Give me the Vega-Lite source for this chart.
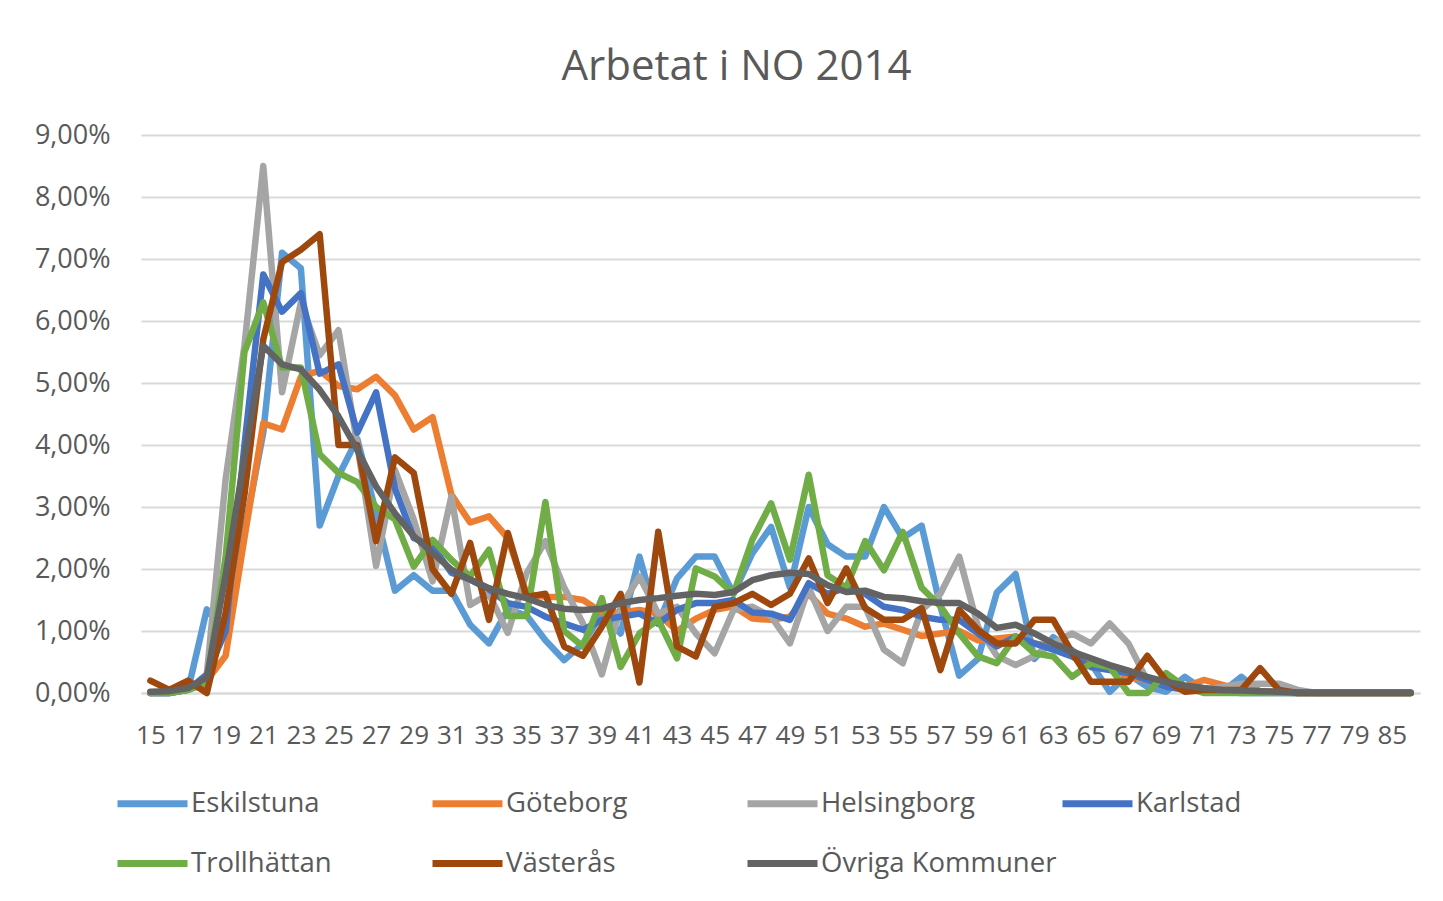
{
"$schema":"https://vega.github.io/schema/vega-lite/v6.json",
"autosize":"none",
"width":1279,"height":558,
"padding":{"left":141,"top":135,"right":23,"bottom":208},
"background":"white",
"title":{"text":"Arbetat i NO 2014","font":"Open Sans","fontSize":42,"fontWeight":"normal","color":"#595959","anchor":"middle","dx":-44,"offset":32},
"data":{"values":[
{"a":"15","s":"Eskilstuna","v":0},{"a":"16","s":"Eskilstuna","v":0},{"a":"17","s":"Eskilstuna","v":0.05},{"a":"18","s":"Eskilstuna","v":1.35},{"a":"19","s":"Eskilstuna","v":1.0},{"a":"20","s":"Eskilstuna","v":2.6},{"a":"21","s":"Eskilstuna","v":4.2},{"a":"22","s":"Eskilstuna","v":7.1},{"a":"23","s":"Eskilstuna","v":6.85},{"a":"24","s":"Eskilstuna","v":2.7},{"a":"25","s":"Eskilstuna","v":3.5},{"a":"26","s":"Eskilstuna","v":4.1},{"a":"27","s":"Eskilstuna","v":2.9},{"a":"28","s":"Eskilstuna","v":1.65},{"a":"29","s":"Eskilstuna","v":1.9},{"a":"30","s":"Eskilstuna","v":1.65},{"a":"31","s":"Eskilstuna","v":1.65},{"a":"32","s":"Eskilstuna","v":1.1},{"a":"33","s":"Eskilstuna","v":0.8},{"a":"34","s":"Eskilstuna","v":1.35},{"a":"35","s":"Eskilstuna","v":1.25},{"a":"36","s":"Eskilstuna","v":0.85},{"a":"37","s":"Eskilstuna","v":0.53},{"a":"38","s":"Eskilstuna","v":0.8},{"a":"39","s":"Eskilstuna","v":1.28},{"a":"40","s":"Eskilstuna","v":0.96},{"a":"41","s":"Eskilstuna","v":2.2},{"a":"42","s":"Eskilstuna","v":1.12},{"a":"43","s":"Eskilstuna","v":1.85},{"a":"44","s":"Eskilstuna","v":2.2},{"a":"45","s":"Eskilstuna","v":2.2},{"a":"46","s":"Eskilstuna","v":1.6},{"a":"47","s":"Eskilstuna","v":2.25},{"a":"48","s":"Eskilstuna","v":2.68},{"a":"49","s":"Eskilstuna","v":1.7},{"a":"50","s":"Eskilstuna","v":3.0},{"a":"51","s":"Eskilstuna","v":2.4},{"a":"52","s":"Eskilstuna","v":2.2},{"a":"53","s":"Eskilstuna","v":2.2},{"a":"54","s":"Eskilstuna","v":3.0},{"a":"55","s":"Eskilstuna","v":2.5},{"a":"56","s":"Eskilstuna","v":2.7},{"a":"57","s":"Eskilstuna","v":1.4},{"a":"58","s":"Eskilstuna","v":0.28},{"a":"59","s":"Eskilstuna","v":0.55},{"a":"60","s":"Eskilstuna","v":1.62},{"a":"61","s":"Eskilstuna","v":1.92},{"a":"62","s":"Eskilstuna","v":0.55},{"a":"63","s":"Eskilstuna","v":0.9},{"a":"64","s":"Eskilstuna","v":0.69},{"a":"65","s":"Eskilstuna","v":0.48},{"a":"66","s":"Eskilstuna","v":0.02},{"a":"67","s":"Eskilstuna","v":0.3},{"a":"68","s":"Eskilstuna","v":0.1},{"a":"69","s":"Eskilstuna","v":0.02},{"a":"70","s":"Eskilstuna","v":0.26},{"a":"71","s":"Eskilstuna","v":0.05},{"a":"72","s":"Eskilstuna","v":0.02},{"a":"73","s":"Eskilstuna","v":0.26},{"a":"74","s":"Eskilstuna","v":0.02},{"a":"75","s":"Eskilstuna","v":0.01},{"a":"76","s":"Eskilstuna","v":0},{"a":"77","s":"Eskilstuna","v":0},{"a":"78","s":"Eskilstuna","v":0},{"a":"79","s":"Eskilstuna","v":0},{"a":"80","s":"Eskilstuna","v":0},{"a":"85","s":"Eskilstuna","v":0},{"a":"87","s":"Eskilstuna","v":0},
{"a":"15","s":"Göteborg","v":0},{"a":"16","s":"Göteborg","v":0.02},{"a":"17","s":"Göteborg","v":0.1},{"a":"18","s":"Göteborg","v":0.2},{"a":"19","s":"Göteborg","v":0.6},{"a":"20","s":"Göteborg","v":2.5},{"a":"21","s":"Göteborg","v":4.35},{"a":"22","s":"Göteborg","v":4.25},{"a":"23","s":"Göteborg","v":5.1},{"a":"24","s":"Göteborg","v":5.2},{"a":"25","s":"Göteborg","v":4.95},{"a":"26","s":"Göteborg","v":4.9},{"a":"27","s":"Göteborg","v":5.1},{"a":"28","s":"Göteborg","v":4.8},{"a":"29","s":"Göteborg","v":4.25},{"a":"30","s":"Göteborg","v":4.45},{"a":"31","s":"Göteborg","v":3.2},{"a":"32","s":"Göteborg","v":2.75},{"a":"33","s":"Göteborg","v":2.85},{"a":"34","s":"Göteborg","v":2.5},{"a":"35","s":"Göteborg","v":1.6},{"a":"36","s":"Göteborg","v":1.55},{"a":"37","s":"Göteborg","v":1.55},{"a":"38","s":"Göteborg","v":1.5},{"a":"39","s":"Göteborg","v":1.3},{"a":"40","s":"Göteborg","v":1.3},{"a":"41","s":"Göteborg","v":1.34},{"a":"42","s":"Göteborg","v":1.28},{"a":"43","s":"Göteborg","v":1.0},{"a":"44","s":"Göteborg","v":1.2},{"a":"45","s":"Göteborg","v":1.34},{"a":"46","s":"Göteborg","v":1.4},{"a":"47","s":"Göteborg","v":1.2},{"a":"48","s":"Göteborg","v":1.18},{"a":"49","s":"Göteborg","v":1.23},{"a":"50","s":"Göteborg","v":1.6},{"a":"51","s":"Göteborg","v":1.28},{"a":"52","s":"Göteborg","v":1.2},{"a":"53","s":"Göteborg","v":1.07},{"a":"54","s":"Göteborg","v":1.12},{"a":"55","s":"Göteborg","v":1.02},{"a":"56","s":"Göteborg","v":0.92},{"a":"57","s":"Göteborg","v":0.96},{"a":"58","s":"Göteborg","v":1.0},{"a":"59","s":"Göteborg","v":0.85},{"a":"60","s":"Göteborg","v":0.88},{"a":"61","s":"Göteborg","v":0.91},{"a":"62","s":"Göteborg","v":0.8},{"a":"63","s":"Göteborg","v":0.75},{"a":"64","s":"Göteborg","v":0.64},{"a":"65","s":"Göteborg","v":0.53},{"a":"66","s":"Göteborg","v":0.42},{"a":"67","s":"Göteborg","v":0.26},{"a":"68","s":"Göteborg","v":0.21},{"a":"69","s":"Göteborg","v":0.13},{"a":"70","s":"Göteborg","v":0.1},{"a":"71","s":"Göteborg","v":0.21},{"a":"72","s":"Göteborg","v":0.13},{"a":"73","s":"Göteborg","v":0.05},{"a":"74","s":"Göteborg","v":0.03},{"a":"75","s":"Göteborg","v":0.02},{"a":"76","s":"Göteborg","v":0},{"a":"77","s":"Göteborg","v":0},{"a":"78","s":"Göteborg","v":0},{"a":"79","s":"Göteborg","v":0},{"a":"80","s":"Göteborg","v":0},{"a":"85","s":"Göteborg","v":0},{"a":"87","s":"Göteborg","v":0},
{"a":"15","s":"Helsingborg","v":0},{"a":"16","s":"Helsingborg","v":0},{"a":"17","s":"Helsingborg","v":0.05},{"a":"18","s":"Helsingborg","v":0.3},{"a":"19","s":"Helsingborg","v":3.45},{"a":"20","s":"Helsingborg","v":5.6},{"a":"21","s":"Helsingborg","v":8.5},{"a":"22","s":"Helsingborg","v":4.85},{"a":"23","s":"Helsingborg","v":6.3},{"a":"24","s":"Helsingborg","v":5.45},{"a":"25","s":"Helsingborg","v":5.85},{"a":"26","s":"Helsingborg","v":4.0},{"a":"27","s":"Helsingborg","v":2.05},{"a":"28","s":"Helsingborg","v":3.6},{"a":"29","s":"Helsingborg","v":2.8},{"a":"30","s":"Helsingborg","v":1.8},{"a":"31","s":"Helsingborg","v":3.17},{"a":"32","s":"Helsingborg","v":1.42},{"a":"33","s":"Helsingborg","v":1.6},{"a":"34","s":"Helsingborg","v":0.97},{"a":"35","s":"Helsingborg","v":1.93},{"a":"36","s":"Helsingborg","v":2.45},{"a":"37","s":"Helsingborg","v":1.7},{"a":"38","s":"Helsingborg","v":1.12},{"a":"39","s":"Helsingborg","v":0.3},{"a":"40","s":"Helsingborg","v":1.39},{"a":"41","s":"Helsingborg","v":1.88},{"a":"42","s":"Helsingborg","v":1.28},{"a":"43","s":"Helsingborg","v":1.39},{"a":"44","s":"Helsingborg","v":0.96},{"a":"45","s":"Helsingborg","v":0.64},{"a":"46","s":"Helsingborg","v":1.34},{"a":"47","s":"Helsingborg","v":1.39},{"a":"48","s":"Helsingborg","v":1.23},{"a":"49","s":"Helsingborg","v":0.8},{"a":"50","s":"Helsingborg","v":1.7},{"a":"51","s":"Helsingborg","v":1.0},{"a":"52","s":"Helsingborg","v":1.39},{"a":"53","s":"Helsingborg","v":1.39},{"a":"54","s":"Helsingborg","v":0.7},{"a":"55","s":"Helsingborg","v":0.48},{"a":"56","s":"Helsingborg","v":1.34},{"a":"57","s":"Helsingborg","v":1.6},{"a":"58","s":"Helsingborg","v":2.2},{"a":"59","s":"Helsingborg","v":1.07},{"a":"60","s":"Helsingborg","v":0.6},{"a":"61","s":"Helsingborg","v":0.45},{"a":"62","s":"Helsingborg","v":0.6},{"a":"63","s":"Helsingborg","v":0.8},{"a":"64","s":"Helsingborg","v":0.96},{"a":"65","s":"Helsingborg","v":0.8},{"a":"66","s":"Helsingborg","v":1.12},{"a":"67","s":"Helsingborg","v":0.8},{"a":"68","s":"Helsingborg","v":0.2},{"a":"69","s":"Helsingborg","v":0.1},{"a":"70","s":"Helsingborg","v":0.1},{"a":"71","s":"Helsingborg","v":0.05},{"a":"72","s":"Helsingborg","v":0.1},{"a":"73","s":"Helsingborg","v":0.15},{"a":"74","s":"Helsingborg","v":0.15},{"a":"75","s":"Helsingborg","v":0.15},{"a":"76","s":"Helsingborg","v":0.05},{"a":"77","s":"Helsingborg","v":0},{"a":"78","s":"Helsingborg","v":0},{"a":"79","s":"Helsingborg","v":0},{"a":"80","s":"Helsingborg","v":0},{"a":"85","s":"Helsingborg","v":0},{"a":"87","s":"Helsingborg","v":0},
{"a":"15","s":"Karlstad","v":0},{"a":"16","s":"Karlstad","v":0},{"a":"17","s":"Karlstad","v":0.05},{"a":"18","s":"Karlstad","v":0.3},{"a":"19","s":"Karlstad","v":1.0},{"a":"20","s":"Karlstad","v":4.0},{"a":"21","s":"Karlstad","v":6.75},{"a":"22","s":"Karlstad","v":6.15},{"a":"23","s":"Karlstad","v":6.45},{"a":"24","s":"Karlstad","v":5.15},{"a":"25","s":"Karlstad","v":5.3},{"a":"26","s":"Karlstad","v":4.2},{"a":"27","s":"Karlstad","v":4.85},{"a":"28","s":"Karlstad","v":3.3},{"a":"29","s":"Karlstad","v":2.5},{"a":"30","s":"Karlstad","v":2.37},{"a":"31","s":"Karlstad","v":1.94},{"a":"32","s":"Karlstad","v":1.83},{"a":"33","s":"Karlstad","v":1.67},{"a":"34","s":"Karlstad","v":1.45},{"a":"35","s":"Karlstad","v":1.39},{"a":"36","s":"Karlstad","v":1.23},{"a":"37","s":"Karlstad","v":1.12},{"a":"38","s":"Karlstad","v":1.02},{"a":"39","s":"Karlstad","v":1.18},{"a":"40","s":"Karlstad","v":1.23},{"a":"41","s":"Karlstad","v":1.28},{"a":"42","s":"Karlstad","v":1.12},{"a":"43","s":"Karlstad","v":1.34},{"a":"44","s":"Karlstad","v":1.45},{"a":"45","s":"Karlstad","v":1.45},{"a":"46","s":"Karlstad","v":1.5},{"a":"47","s":"Karlstad","v":1.3},{"a":"48","s":"Karlstad","v":1.28},{"a":"49","s":"Karlstad","v":1.18},{"a":"50","s":"Karlstad","v":1.77},{"a":"51","s":"Karlstad","v":1.6},{"a":"52","s":"Karlstad","v":1.7},{"a":"53","s":"Karlstad","v":1.6},{"a":"54","s":"Karlstad","v":1.39},{"a":"55","s":"Karlstad","v":1.34},{"a":"56","s":"Karlstad","v":1.23},{"a":"57","s":"Karlstad","v":1.18},{"a":"58","s":"Karlstad","v":1.18},{"a":"59","s":"Karlstad","v":0.96},{"a":"60","s":"Karlstad","v":0.75},{"a":"61","s":"Karlstad","v":0.91},{"a":"62","s":"Karlstad","v":0.8},{"a":"63","s":"Karlstad","v":0.7},{"a":"64","s":"Karlstad","v":0.59},{"a":"65","s":"Karlstad","v":0.42},{"a":"66","s":"Karlstad","v":0.37},{"a":"67","s":"Karlstad","v":0.32},{"a":"68","s":"Karlstad","v":0.21},{"a":"69","s":"Karlstad","v":0.1},{"a":"70","s":"Karlstad","v":0.05},{"a":"71","s":"Karlstad","v":0.03},{"a":"72","s":"Karlstad","v":0.02},{"a":"73","s":"Karlstad","v":0},{"a":"74","s":"Karlstad","v":0},{"a":"75","s":"Karlstad","v":0},{"a":"76","s":"Karlstad","v":0},{"a":"77","s":"Karlstad","v":0},{"a":"78","s":"Karlstad","v":0},{"a":"79","s":"Karlstad","v":0},{"a":"80","s":"Karlstad","v":0},{"a":"85","s":"Karlstad","v":0},{"a":"87","s":"Karlstad","v":0},
{"a":"15","s":"Trollhättan","v":0},{"a":"16","s":"Trollhättan","v":0},{"a":"17","s":"Trollhättan","v":0.05},{"a":"18","s":"Trollhättan","v":0.15},{"a":"19","s":"Trollhättan","v":2.2},{"a":"20","s":"Trollhättan","v":5.5},{"a":"21","s":"Trollhättan","v":6.3},{"a":"22","s":"Trollhättan","v":5.25},{"a":"23","s":"Trollhättan","v":5.25},{"a":"24","s":"Trollhättan","v":3.85},{"a":"25","s":"Trollhättan","v":3.55},{"a":"26","s":"Trollhättan","v":3.4},{"a":"27","s":"Trollhättan","v":3.0},{"a":"28","s":"Trollhättan","v":2.8},{"a":"29","s":"Trollhättan","v":2.04},{"a":"30","s":"Trollhättan","v":2.47},{"a":"31","s":"Trollhättan","v":2.15},{"a":"32","s":"Trollhättan","v":1.88},{"a":"33","s":"Trollhättan","v":2.31},{"a":"34","s":"Trollhättan","v":1.24},{"a":"35","s":"Trollhättan","v":1.24},{"a":"36","s":"Trollhättan","v":3.08},{"a":"37","s":"Trollhättan","v":1.0},{"a":"38","s":"Trollhättan","v":0.75},{"a":"39","s":"Trollhättan","v":1.53},{"a":"40","s":"Trollhättan","v":0.42},{"a":"41","s":"Trollhättan","v":0.96},{"a":"42","s":"Trollhättan","v":1.18},{"a":"43","s":"Trollhättan","v":0.56},{"a":"44","s":"Trollhättan","v":2.01},{"a":"45","s":"Trollhättan","v":1.88},{"a":"46","s":"Trollhättan","v":1.6},{"a":"47","s":"Trollhättan","v":2.47},{"a":"48","s":"Trollhättan","v":3.06},{"a":"49","s":"Trollhättan","v":2.15},{"a":"50","s":"Trollhättan","v":3.52},{"a":"51","s":"Trollhättan","v":1.9},{"a":"52","s":"Trollhättan","v":1.7},{"a":"53","s":"Trollhättan","v":2.45},{"a":"54","s":"Trollhättan","v":1.98},{"a":"55","s":"Trollhättan","v":2.6},{"a":"56","s":"Trollhättan","v":1.7},{"a":"57","s":"Trollhättan","v":1.4},{"a":"58","s":"Trollhättan","v":0.96},{"a":"59","s":"Trollhättan","v":0.59},{"a":"60","s":"Trollhättan","v":0.48},{"a":"61","s":"Trollhättan","v":0.91},{"a":"62","s":"Trollhättan","v":0.64},{"a":"63","s":"Trollhättan","v":0.59},{"a":"64","s":"Trollhättan","v":0.26},{"a":"65","s":"Trollhättan","v":0.48},{"a":"66","s":"Trollhättan","v":0.42},{"a":"67","s":"Trollhättan","v":0},{"a":"68","s":"Trollhättan","v":0},{"a":"69","s":"Trollhättan","v":0.32},{"a":"70","s":"Trollhättan","v":0.1},{"a":"71","s":"Trollhättan","v":0},{"a":"72","s":"Trollhättan","v":0},{"a":"73","s":"Trollhättan","v":0},{"a":"74","s":"Trollhättan","v":0},{"a":"75","s":"Trollhättan","v":0},{"a":"76","s":"Trollhättan","v":0},{"a":"77","s":"Trollhättan","v":0},{"a":"78","s":"Trollhättan","v":0},{"a":"79","s":"Trollhättan","v":0},{"a":"80","s":"Trollhättan","v":0},{"a":"85","s":"Trollhättan","v":0},{"a":"87","s":"Trollhättan","v":0},
{"a":"15","s":"Västerås","v":0.2},{"a":"16","s":"Västerås","v":0.05},{"a":"17","s":"Västerås","v":0.2},{"a":"18","s":"Västerås","v":0},{"a":"19","s":"Västerås","v":1.3},{"a":"20","s":"Västerås","v":3.2},{"a":"21","s":"Västerås","v":5.7},{"a":"22","s":"Västerås","v":6.95},{"a":"23","s":"Västerås","v":7.15},{"a":"24","s":"Västerås","v":7.4},{"a":"25","s":"Västerås","v":4.0},{"a":"26","s":"Västerås","v":4.0},{"a":"27","s":"Västerås","v":2.45},{"a":"28","s":"Västerås","v":3.8},{"a":"29","s":"Västerås","v":3.55},{"a":"30","s":"Västerås","v":2.0},{"a":"31","s":"Västerås","v":1.6},{"a":"32","s":"Västerås","v":2.42},{"a":"33","s":"Västerås","v":1.18},{"a":"34","s":"Västerås","v":2.58},{"a":"35","s":"Västerås","v":1.55},{"a":"36","s":"Västerås","v":1.6},{"a":"37","s":"Västerås","v":0.75},{"a":"38","s":"Västerås","v":0.6},{"a":"39","s":"Västerås","v":1.07},{"a":"40","s":"Västerås","v":1.6},{"a":"41","s":"Västerås","v":0.17},{"a":"42","s":"Västerås","v":2.6},{"a":"43","s":"Västerås","v":0.75},{"a":"44","s":"Västerås","v":0.59},{"a":"45","s":"Västerås","v":1.39},{"a":"46","s":"Västerås","v":1.45},{"a":"47","s":"Västerås","v":1.6},{"a":"48","s":"Västerås","v":1.42},{"a":"49","s":"Västerås","v":1.6},{"a":"50","s":"Västerås","v":2.17},{"a":"51","s":"Västerås","v":1.45},{"a":"52","s":"Västerås","v":2.01},{"a":"53","s":"Västerås","v":1.37},{"a":"54","s":"Västerås","v":1.18},{"a":"55","s":"Västerås","v":1.18},{"a":"56","s":"Västerås","v":1.37},{"a":"57","s":"Västerås","v":0.37},{"a":"58","s":"Västerås","v":1.34},{"a":"59","s":"Västerås","v":1.02},{"a":"60","s":"Västerås","v":0.8},{"a":"61","s":"Västerås","v":0.8},{"a":"62","s":"Västerås","v":1.18},{"a":"63","s":"Västerås","v":1.18},{"a":"64","s":"Västerås","v":0.65},{"a":"65","s":"Västerås","v":0.18},{"a":"66","s":"Västerås","v":0.18},{"a":"67","s":"Västerås","v":0.18},{"a":"68","s":"Västerås","v":0.6},{"a":"69","s":"Västerås","v":0.2},{"a":"70","s":"Västerås","v":0.02},{"a":"71","s":"Västerås","v":0.05},{"a":"72","s":"Västerås","v":0.05},{"a":"73","s":"Västerås","v":0.05},{"a":"74","s":"Västerås","v":0.4},{"a":"75","s":"Västerås","v":0.05},{"a":"76","s":"Västerås","v":0},{"a":"77","s":"Västerås","v":0},{"a":"78","s":"Västerås","v":0},{"a":"79","s":"Västerås","v":0},{"a":"80","s":"Västerås","v":0},{"a":"85","s":"Västerås","v":0},{"a":"87","s":"Västerås","v":0},
{"a":"15","s":"Övriga Kommuner","v":0.02},{"a":"16","s":"Övriga Kommuner","v":0.03},{"a":"17","s":"Övriga Kommuner","v":0.08},{"a":"18","s":"Övriga Kommuner","v":0.25},{"a":"19","s":"Övriga Kommuner","v":1.9},{"a":"20","s":"Övriga Kommuner","v":3.8},{"a":"21","s":"Övriga Kommuner","v":5.6},{"a":"22","s":"Övriga Kommuner","v":5.3},{"a":"23","s":"Övriga Kommuner","v":5.22},{"a":"24","s":"Övriga Kommuner","v":4.89},{"a":"25","s":"Övriga Kommuner","v":4.46},{"a":"26","s":"Övriga Kommuner","v":3.92},{"a":"27","s":"Övriga Kommuner","v":3.33},{"a":"28","s":"Övriga Kommuner","v":2.9},{"a":"29","s":"Övriga Kommuner","v":2.53},{"a":"30","s":"Övriga Kommuner","v":2.26},{"a":"31","s":"Övriga Kommuner","v":1.99},{"a":"32","s":"Övriga Kommuner","v":1.83},{"a":"33","s":"Övriga Kommuner","v":1.69},{"a":"34","s":"Övriga Kommuner","v":1.6},{"a":"35","s":"Övriga Kommuner","v":1.53},{"a":"36","s":"Övriga Kommuner","v":1.42},{"a":"37","s":"Övriga Kommuner","v":1.36},{"a":"38","s":"Övriga Kommuner","v":1.34},{"a":"39","s":"Övriga Kommuner","v":1.36},{"a":"40","s":"Övriga Kommuner","v":1.45},{"a":"41","s":"Övriga Kommuner","v":1.5},{"a":"42","s":"Övriga Kommuner","v":1.53},{"a":"43","s":"Övriga Kommuner","v":1.57},{"a":"44","s":"Övriga Kommuner","v":1.6},{"a":"45","s":"Övriga Kommuner","v":1.58},{"a":"46","s":"Övriga Kommuner","v":1.63},{"a":"47","s":"Övriga Kommuner","v":1.82},{"a":"48","s":"Övriga Kommuner","v":1.9},{"a":"49","s":"Övriga Kommuner","v":1.94},{"a":"50","s":"Övriga Kommuner","v":1.92},{"a":"51","s":"Övriga Kommuner","v":1.74},{"a":"52","s":"Övriga Kommuner","v":1.63},{"a":"53","s":"Övriga Kommuner","v":1.65},{"a":"54","s":"Övriga Kommuner","v":1.55},{"a":"55","s":"Övriga Kommuner","v":1.53},{"a":"56","s":"Övriga Kommuner","v":1.48},{"a":"57","s":"Övriga Kommuner","v":1.45},{"a":"58","s":"Övriga Kommuner","v":1.45},{"a":"59","s":"Övriga Kommuner","v":1.28},{"a":"60","s":"Övriga Kommuner","v":1.05},{"a":"61","s":"Övriga Kommuner","v":1.1},{"a":"62","s":"Övriga Kommuner","v":0.96},{"a":"63","s":"Övriga Kommuner","v":0.8},{"a":"64","s":"Övriga Kommuner","v":0.67},{"a":"65","s":"Övriga Kommuner","v":0.56},{"a":"66","s":"Övriga Kommuner","v":0.45},{"a":"67","s":"Övriga Kommuner","v":0.36},{"a":"68","s":"Övriga Kommuner","v":0.26},{"a":"69","s":"Övriga Kommuner","v":0.18},{"a":"70","s":"Övriga Kommuner","v":0.12},{"a":"71","s":"Övriga Kommuner","v":0.08},{"a":"72","s":"Övriga Kommuner","v":0.05},{"a":"73","s":"Övriga Kommuner","v":0.04},{"a":"74","s":"Övriga Kommuner","v":0.03},{"a":"75","s":"Övriga Kommuner","v":0.02},{"a":"76","s":"Övriga Kommuner","v":0.01},{"a":"77","s":"Övriga Kommuner","v":0.01},{"a":"78","s":"Övriga Kommuner","v":0.01},{"a":"79","s":"Övriga Kommuner","v":0.01},{"a":"80","s":"Övriga Kommuner","v":0.01},{"a":"85","s":"Övriga Kommuner","v":0.01},{"a":"87","s":"Övriga Kommuner","v":0.01}
]},
"mark":{"type":"line","strokeWidth":6.5,"strokeJoin":"round","strokeCap":"round"},
"encoding":{
"x":{"field":"a","type":"ordinal","sort":null,"title":null,
"scale":{"type":"point","padding":0.5,"domain":["15","16","17","18","19","20","21","22","23","24","25","26","27","28","29","30","31","32","33","34","35","36","37","38","39","40","41","42","43","44","45","46","47","48","49","50","51","52","53","54","55","56","57","58","59","60","61","62","63","64","65","66","67","68","69","70","71","72","73","74","75","76","77","78","79","80","85","87"]},
"axis":{"values":["15","17","19","21","23","25","27","29","31","33","35","37","39","41","43","45","47","49","51","53","55","57","59","61","63","65","67","69","71","73","75","77","79","85"],"labelAngle":0,"labelFont":"Open Sans","labelFontSize":26,"labelColor":"#595959","labelPadding":29,"ticks":false,"domainColor":"#D9D9D9","domainWidth":2,"grid":false,"labelOverlap":false}},
"y":{"field":"v","type":"quantitative","title":null,
"scale":{"domain":[0,9],"nice":false},
"axis":{"values":[0,1,2,3,4,5,6,7,8,9],"labelExpr":"replace(format(datum.value,'.2f'),'.',',')+'%'","labelFont":"Open Sans","labelFontSize":27,"labelColor":"#595959","labelPadding":31,"ticks":false,"domain":false,"gridColor":"#D9D9D9","gridWidth":2}},
"color":{"field":"s","type":"nominal","sort":null,
"scale":{"domain":["Eskilstuna","Göteborg","Helsingborg","Karlstad","Trollhättan","Västerås","Övriga Kommuner"],"range":["#5B9BD5","#ED7D31","#A5A5A5","#4472C4","#70AD47","#9E480E","#636363"]},
"legend":{"title":null,"orient":"none","legendX":-27,"legendY":630,"direction":"horizontal","columns":4,"gridAlign":"all","symbolType":"stroke","symbolSize":4900,"symbolStrokeWidth":7,"labelFont":"Open Sans","labelFontSize":27.5,"labelColor":"#595959","labelOffset":0,"labelLimit":400,"columnPadding":-9,"rowPadding":7,"padding":0}}
},
"config":{"view":{"stroke":null}}
}
